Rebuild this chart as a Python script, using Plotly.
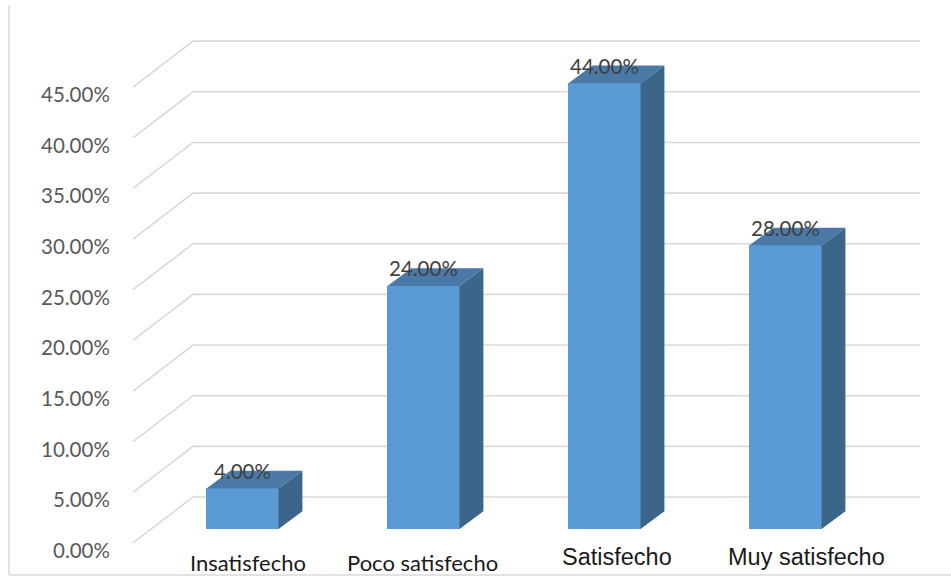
import plotly.graph_objects as go

# Survey results: satisfaction level share
categories = ["Insatisfecho", "Poco satisfecho", "Satisfecho", "Muy satisfecho"]
values = [4.0, 24.0, 44.0, 28.0]
tick_values = [0, 5, 10, 15, 20, 25, 30, 35, 40, 45]
tick_labels = [f"{t:.2f}%" for t in tick_values]

# Geometry of the pseudo-3D view (data units: x = category index, y = percent)
BAR_W = 0.398          # width of the front face
DEPTH_X = 0.132        # horizontal extrusion of each bar
DEPTH_Y = 1.75         # vertical extrusion of each bar
GRID_FRONT_X = -0.605  # floor front edge at the left wall
GRID_BACK_X = -0.2735  # floor back corner
GRID_END_X = 3.743     # right end of the back wall
GRID_FRONT_DY = -1.38  # gridline front offset relative to bar plane
GRID_BACK_DY = 3.16    # gridline back offset relative to bar plane

X_RANGE = [-1.33978, 3.91436]
Y_RANGE = [-4.738, 52.221]

FRONT = "#5B9BD5"
TOP = "#4A79A8"
SIDE = "#3B6589"
GRID = "#D9D9D9"

xs = list(range(len(categories)))

fig = go.Figure()

# Front faces of the bars
fig.add_trace(go.Bar(
    x=xs, y=values, width=BAR_W,
    marker=dict(color=FRONT, line=dict(width=0)),
    showlegend=False, hoverinfo="skip",
))

# Top and side faces as filled polygons
top_x, top_y, side_x, side_y = [], [], [], []
for xi, v in zip(xs, values):
    l, r = xi - BAR_W / 2, xi + BAR_W / 2
    top_x += [l, r, r + DEPTH_X, l + DEPTH_X, l, None]
    top_y += [v, v, v + DEPTH_Y, v + DEPTH_Y, v, None]
    side_x += [r, r + DEPTH_X, r + DEPTH_X, r, r, None]
    side_y += [0, DEPTH_Y, v + DEPTH_Y, v, 0, None]

fig.add_trace(go.Scatter(
    x=top_x, y=top_y, mode="lines", fill="toself", fillcolor=TOP,
    line=dict(width=0, color=TOP), showlegend=False, hoverinfo="skip",
))
fig.add_trace(go.Scatter(
    x=side_x, y=side_y, mode="lines", fill="toself", fillcolor=SIDE,
    line=dict(width=0, color=SIDE), showlegend=False, hoverinfo="skip",
))

shapes = []
# Gridlines: short perspective segment on the floor edge, then back wall
for t in tick_values:
    path = (f"M {GRID_FRONT_X},{t + GRID_FRONT_DY} "
            f"L {GRID_BACK_X},{t + GRID_BACK_DY} "
            f"L {GRID_END_X},{t + GRID_BACK_DY}")
    shapes.append(dict(type="path", path=path, xref="x", yref="y",
                       line=dict(color=GRID, width=1.6), layer="below"))

# Chart frame (left and bottom edges)
shapes.append(dict(type="line", xref="paper", yref="paper",
                   x0=0.0095, x1=0.0095, y0=0.0035, y1=0.991,
                   line=dict(color=GRID, width=1.5)))
shapes.append(dict(type="line", xref="paper", yref="paper",
                   x0=0.0095, x1=1.0, y0=0.0035, y1=0.0035,
                   line=dict(color=GRID, width=1.5)))

annotations = []
# Value axis labels
for t, lab in zip(tick_values, tick_labels):
    annotations.append(dict(
        x=GRID_FRONT_X, y=t + GRID_FRONT_DY, xref="x", yref="y",
        text=lab, showarrow=False, xanchor="right", yanchor="middle",
        xshift=-21, yshift=-7,
        font=dict(family="Lato", size=20.5, color="#595959"),
    ))

# Data labels above each bar
for xi, v in zip(xs, values):
    annotations.append(dict(
        x=xi, y=v + DEPTH_Y, xref="x", yref="y",
        text=f"{v:.2f}%", showarrow=False, xanchor="center", yanchor="middle",
        font=dict(family="Lato", size=20.5, color="#404040"),
    ))

# Category labels
label_fonts = ["Lato", "Lato", "Liberation Sans", "Liberation Sans"]
label_sizes = [22, 22, 23.5, 23.5]
label_xshift = [5, -1, 12, 21]
label_yshift = [-33, -33, -28, -28]
for xi, cat, fam, sz, dx, dy in zip(xs, categories, label_fonts, label_sizes,
                                    label_xshift, label_yshift):
    annotations.append(dict(
        x=xi, y=0, xref="x", yref="y",
        text=cat, showarrow=False, xanchor="center", yanchor="middle",
        xshift=dx, yshift=dy,
        font=dict(family=fam, size=sz, color="#1a1a1a"),
    ))

fig.update_layout(
    width=951, height=577, autosize=False,
    margin=dict(l=0, r=0, t=0, b=0),
    paper_bgcolor="white", plot_bgcolor="white",
    xaxis=dict(range=X_RANGE, visible=False, fixedrange=True),
    yaxis=dict(range=Y_RANGE, visible=False, fixedrange=True),
    shapes=shapes, annotations=annotations,
    bargap=0,
)

fig.write_html("out.html")
